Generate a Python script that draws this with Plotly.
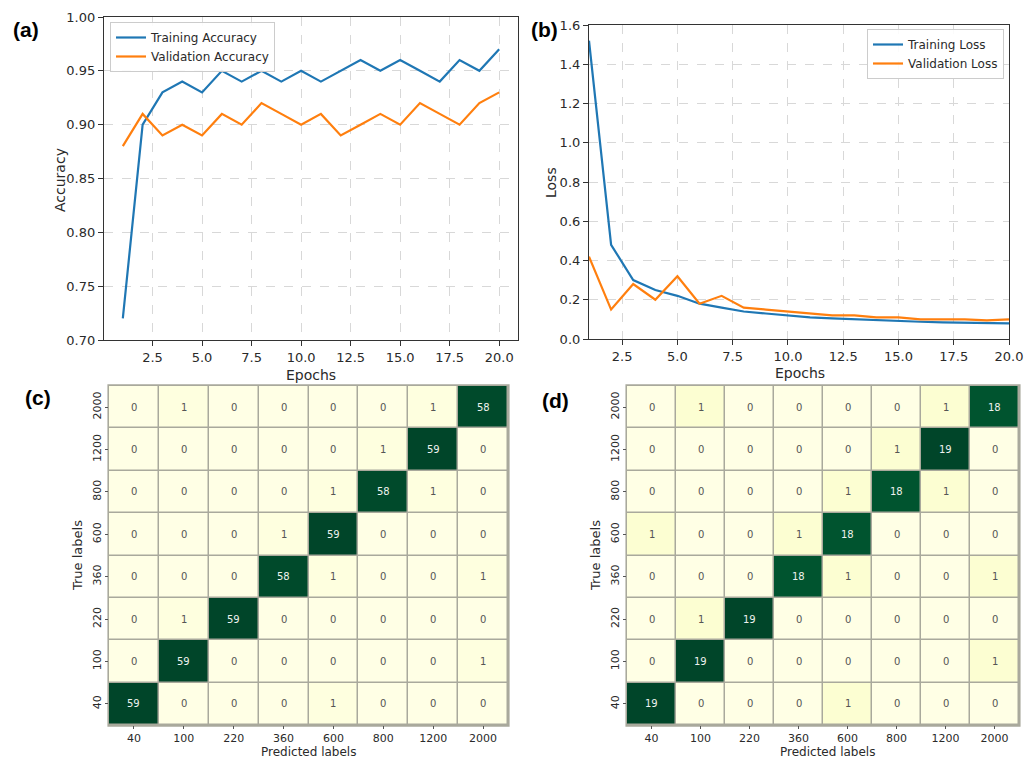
import plotly.graph_objects as go

# ---- training history ----
epochs = list(range(1, 21))
train_acc = [0.72, 0.90, 0.93, 0.94, 0.93, 0.95, 0.94, 0.95, 0.94, 0.95,
             0.94, 0.95, 0.96, 0.95, 0.96, 0.95, 0.94, 0.96, 0.95, 0.97]
val_acc = [0.88, 0.91, 0.89, 0.90, 0.89, 0.91, 0.90, 0.92, 0.91, 0.90,
           0.91, 0.89, 0.90, 0.91, 0.90, 0.92, 0.91, 0.90, 0.92, 0.93]
train_loss = [1.52, 0.48, 0.30, 0.25, 0.22, 0.18, 0.16, 0.14, 0.13, 0.12,
              0.11, 0.105, 0.10, 0.095, 0.09, 0.088, 0.085, 0.083, 0.08, 0.08]
val_loss = [0.42, 0.15, 0.28, 0.20, 0.32, 0.18, 0.22, 0.16, 0.15, 0.14,
            0.13, 0.12, 0.12, 0.11, 0.11, 0.10, 0.10, 0.10, 0.095, 0.10]

# ---- confusion matrices (rows = true label, bottom to top) ----
class_labels = ["40", "100", "220", "360", "600", "800", "1200", "2000"]
cm_c = [
    [59, 0, 0, 0, 1, 0, 0, 0],    # 40
    [0, 59, 0, 0, 0, 0, 0, 1],    # 100
    [0, 1, 59, 0, 0, 0, 0, 0],    # 220
    [0, 0, 0, 58, 1, 0, 0, 1],    # 360
    [0, 0, 0, 1, 59, 0, 0, 0],    # 600
    [0, 0, 0, 0, 1, 58, 1, 0],    # 800
    [0, 0, 0, 0, 0, 1, 59, 0],    # 1200
    [0, 1, 0, 0, 0, 0, 1, 58],    # 2000
]
cm_d = [
    [19, 0, 0, 0, 1, 0, 0, 0],    # 40
    [0, 19, 0, 0, 0, 0, 0, 1],    # 100
    [0, 1, 19, 0, 0, 0, 0, 0],    # 220
    [0, 0, 0, 18, 1, 0, 0, 1],    # 360
    [1, 0, 0, 1, 18, 0, 0, 0],    # 600
    [0, 0, 0, 0, 1, 18, 1, 0],    # 800
    [0, 0, 0, 0, 0, 1, 19, 0],    # 1200
    [0, 1, 0, 0, 0, 0, 1, 18],    # 2000
]

W, H = 1032, 759
BLUE, ORANGE = "#1f77b4", "#ff7f0e"
FONT = "DejaVu Sans"
TXT = "#2a2a2a"


def px(x):
    return x / W


def py(y):
    return 1 - y / H


fig = go.Figure()

# (a) accuracy curves
fig.add_trace(go.Scatter(x=epochs, y=train_acc, mode="lines", name="Training Accuracy",
                         line=dict(color=BLUE, width=2.2), xaxis="x", yaxis="y", legend="legend"))
fig.add_trace(go.Scatter(x=epochs, y=val_acc, mode="lines", name="Validation Accuracy",
                         line=dict(color=ORANGE, width=2.2), xaxis="x", yaxis="y", legend="legend"))
# (b) loss curves
fig.add_trace(go.Scatter(x=epochs, y=train_loss, mode="lines", name="Training Loss",
                         line=dict(color=BLUE, width=2.2), xaxis="x2", yaxis="y2", legend="legend2"))
fig.add_trace(go.Scatter(x=epochs, y=val_loss, mode="lines", name="Validation Loss",
                         line=dict(color=ORANGE, width=2.2), xaxis="x2", yaxis="y2", legend="legend2"))

# (c), (d) confusion-matrix heatmaps on integer cell positions
idx = list(range(len(class_labels)))
for cm, xa, ya in [(cm_c, "x3", "y3"), (cm_d, "x4", "y4")]:
    zmax = max(max(r) for r in cm)
    fig.add_trace(go.Heatmap(z=cm, x=idx, y=idx, colorscale="YlGn",
                             zmin=0, zmax=zmax, showscale=False, xgap=1.5, ygap=1.5,
                             xaxis=xa, yaxis=ya, hoverinfo="z"))
    for i, row in enumerate(cm):
        for j, v in enumerate(row):
            fig.add_annotation(x=idx[j], y=idx[i], text=str(v),
                               xref=xa, yref=ya, showarrow=False,
                               font=dict(family=FONT, size=10,
                                         color="#eef2ee" if v > zmax / 2 else "#555555"))

line_axis = dict(showline=True, linecolor="#333333", linewidth=1.2, mirror=True,
                 ticks="outside", ticklen=5, tickcolor="#333333", automargin=False,
                 showgrid=True, gridcolor="#d8d8d8", griddash="dash", gridwidth=1,
                 zeroline=False, tickfont=dict(family=FONT, size=13, color=TXT))
hm_axis = dict(showline=False, ticks="outside", ticklen=3, tickcolor="#555555",
               showgrid=False, zeroline=False, range=[-0.5, 7.5], automargin=False,
               tickvals=idx, ticktext=class_labels,
               tickfont=dict(family=FONT, size=11, color=TXT))

fig.update_layout(
    width=W, height=H, margin=dict(l=0, r=0, t=0, b=0),
    paper_bgcolor="white", plot_bgcolor="white", showlegend=True,
    xaxis=dict(line_axis, domain=[px(104), px(518)], range=[0.05, 20.95],
               tick0=0, dtick=2.5, tickformat=".1f", anchor="y"),
    yaxis=dict(line_axis, domain=[py(340), py(17)], range=[0.70, 1.00],
               dtick=0.05, tickformat=".2f", anchor="x"),
    xaxis2=dict(line_axis, domain=[px(589), px(1009)], range=[1, 20],
                tick0=0, dtick=2.5, tickformat=".1f", anchor="y2"),
    yaxis2=dict(line_axis, domain=[py(339), py(25)], range=[0, 1.6],
                dtick=0.2, tickformat=".1f", anchor="x2"),
    xaxis3=dict(hm_axis, domain=[px(109), px(508)], anchor="y3"),
    yaxis3=dict(hm_axis, domain=[py(725), py(386)], anchor="x3", tickangle=-90),
    xaxis4=dict(hm_axis, domain=[px(627), px(1019)], anchor="y4"),
    yaxis4=dict(hm_axis, domain=[py(725), py(386)], anchor="x4", tickangle=-90),
    legend=dict(x=px(110), y=py(22), xanchor="left", yanchor="top",
                bgcolor="rgba(255,255,255,0.9)", bordercolor="#cccccc", borderwidth=1,
                font=dict(family=FONT, size=12, color=TXT)),
    legend2=dict(x=px(1004), y=py(29), xanchor="right", yanchor="top",
                 bgcolor="rgba(255,255,255,0.9)", bordercolor="#cccccc", borderwidth=1,
                 font=dict(family=FONT, size=12, color=TXT)),
)

# gray cell borders behind the heatmaps
for xa, ya in [("x3", "y3"), ("x4", "y4")]:
    fig.add_shape(type="rect", xref=f"{xa} domain", yref=f"{ya} domain",
                  x0=-0.004, x1=1.004, y0=-0.005, y1=1.005,
                  fillcolor="#a9a99c", line=dict(width=0), layer="below")

# axis titles
axis_titles = [
    ("Epochs", 311, 375, 0, 14), ("Accuracy", 60, 180, -90, 14),
    ("Epochs", 800, 373, 0, 14), ("Loss", 551, 183, -90, 14),
    ("Predicted labels", 308, 752, 0, 12), ("True labels", 77, 556, -90, 13),
    ("Predicted labels", 827, 752, 0, 12), ("True labels", 595, 556, -90, 13),
]
for txt, x, y, ang, sz in axis_titles:
    fig.add_annotation(text=txt, x=px(x), y=py(y), xref="paper", yref="paper",
                       xanchor="center", yanchor="middle",
                       showarrow=False, textangle=ang,
                       font=dict(family=FONT, size=sz, color=TXT))

# panel letters
for txt, x, y in [("(a)", 26, 30), ("(b)", 544, 30), ("(c)", 38, 397), ("(d)", 555, 400)]:
    fig.add_annotation(text=txt, x=px(x), y=py(y), xref="paper", yref="paper",
                       xanchor="center", yanchor="middle",
                       showarrow=False, font=dict(family="Liberation Sans", size=21,
                                                  color="black", weight="bold"))

fig.write_html("out.html")
